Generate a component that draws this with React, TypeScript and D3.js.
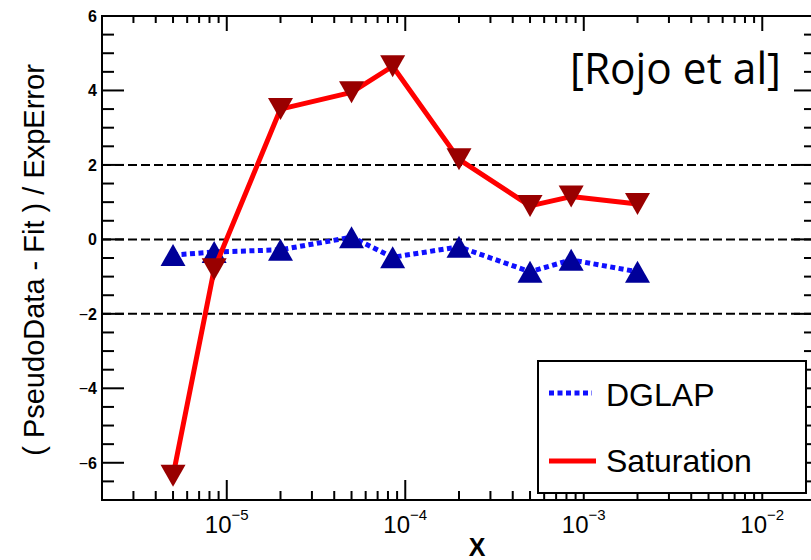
import React from "react";
import * as d3 from "d3";

// x positions of the pseudo-data bins
const xValues = [5e-6, 8.5e-6, 2e-5, 5e-5, 8.5e-5, 2e-4, 5e-4, 8.5e-4, 2e-3];
// (PseudoData - Fit) / ExpError for each model
const dglap = [-0.42, -0.34, -0.28, 0.06, -0.48, -0.2, -0.87, -0.55, -0.87];
const saturation = [-6.35, -0.8, 3.5, 3.95, 4.65, 2.15, 0.9, 1.15, 0.95];

const yTicks = [-6, -4, -2, 0, 2, 4, 6];
const xTickExponents = [-5, -4, -3, -2];
const refLines = [-2, 0, 2];

const W = 811;
const H = 560;
const L = 102, R = 816, T = 16, B = 500;

const x = d3.scaleLog().domain([2e-6, 2e-2]).range([L, R]);
const y = d3.scaleLinear().domain([-7, 6]).range([B, T]);

const font = "'Liberation Sans', Arial, Helvetica, sans-serif";

const upTri = "M0,-11L12.5,11L-12.5,11Z";
const downTri = "M0,11L12.5,-11L-12.5,-11Z";

function minorX(): number[] {
  const out: number[] = [];
  for (let e = -6; e <= -2; e++) {
    for (let m = 1; m <= 9; m++) {
      const v = m * Math.pow(10, e);
      if (v >= 2e-6 * 0.999 && v <= 2e-2 * 1.001) out.push(v);
    }
  }
  return out;
}

export default function App() {
  const line = d3
    .line<number>()
    .x((_, i) => x(xValues[i]))
    .y((d) => y(d));

  const yMinor = d3.range(-7, 6.01, 0.5);
  const xMinor = minorX();

  return (
    <svg
      width={W}
      height={H}
      viewBox={`0 0 ${W} ${H}`}
      style={{ position: "absolute", left: 0, top: 0, background: "#fff" }}
    >
      <rect x={0} y={0} width={W} height={H} fill="#fff" />

      {/* reference lines */}
      {refLines.map((v) => (
        <line
          key={"ref" + v}
          x1={L}
          x2={R}
          y1={y(v)}
          y2={y(v)}
          stroke="#000"
          strokeWidth={2}
          strokeDasharray="9 4"
        />
      ))}

      {/* y ticks, left and right */}
      {yMinor.map((v) => {
        const major = Math.abs(v % 2) < 1e-6;
        const len = major ? 22 : 12;
        return (
          <g key={"yt" + v}>
            <line x1={L} x2={L + len} y1={y(v)} y2={y(v)} stroke="#000" strokeWidth={2} />
            <line x1={R} x2={R - len} y1={y(v)} y2={y(v)} stroke="#000" strokeWidth={2} />
          </g>
        );
      })}

      {/* x ticks, bottom and top */}
      {xMinor.map((v, i) => {
        const major = Math.abs(Math.log10(v) - Math.round(Math.log10(v))) < 1e-6;
        return (
          <g key={"xt" + i}>
            <line x1={x(v)} x2={x(v)} y1={B} y2={B - (major ? 20 : 9)} stroke="#000" strokeWidth={2} />
            <line x1={x(v)} x2={x(v)} y1={T} y2={T + (major ? 15 : 7)} stroke="#000" strokeWidth={2} />
          </g>
        );
      })}

      {/* frame */}
      <rect x={L} y={T} width={R - L} height={B - T} fill="none" stroke="#000" strokeWidth={2} />

      {/* y tick labels */}
      {yTicks.map((v) => (
        <text
          key={"yl" + v}
          x={97}
          y={y(v) + 6}
          textAnchor="end"
          fontFamily={font}
          fontSize={16}
          fontWeight="bold"
          fill="#000"
        >
          {v < 0 ? (
            <>
              <tspan fontWeight="normal">−</tspan>
              {Math.abs(v)}
            </>
          ) : (
            String(v)
          )}
        </text>
      ))}

      {/* x tick labels */}
      {xTickExponents.map((e) => (
        <text
          key={"xl" + e}
          x={x(Math.pow(10, e))}
          y={533}
          textAnchor="middle"
          fontFamily={font}
          fontSize={24}
          fill="#000"
        >
          10
          <tspan fontSize={15} dy={-13}>
            {"−" + Math.abs(e)}
          </tspan>
        </text>
      ))}

      {/* axis titles */}
      <text x={477} y={556} textAnchor="middle" fontFamily={font} fontSize={25} fontWeight="bold" fill="#000">
        X
      </text>
      <text
        transform={`translate(44, 260) rotate(-90)`}
        textAnchor="middle"
        fontFamily={font}
        fontSize={29}
        fill="#000"
      >
        ( PseudoData - Fit ) / ExpError
      </text>

      {/* DGLAP */}
      <path
        d={line(dglap) || ""}
        fill="none"
        stroke="#1010ff"
        strokeWidth={5}
        strokeDasharray="5 3.5"
      />
      {dglap.map((v, i) => (
        <path key={"dm" + i} d={upTri} transform={`translate(${x(xValues[i])},${y(v)})`} fill="#000099" />
      ))}

      {/* Saturation */}
      <path d={line(saturation) || ""} fill="none" stroke="#ff0000" strokeWidth={5} strokeLinejoin="round" />
      {saturation.map((v, i) => (
        <path key={"sm" + i} d={downTri} transform={`translate(${x(xValues[i])},${y(v)})`} fill="#990000" />
      ))}

      {/* citation */}
      <text
        x={570}
        y={84}
        fontFamily="'Open Sans', 'DejaVu Sans', sans-serif"
        fontSize={43}
        fill="#000"
        textLength={211}
        lengthAdjust="spacingAndGlyphs"
      >
        [Rojo et al]
      </text>

      {/* legend */}
      <rect x={538} y={361} width={268} height={132} fill="#fff" stroke="#000" strokeWidth={2} />
      <line x1={549} x2={592} y1={393} y2={393} stroke="#1010ff" strokeWidth={5} strokeDasharray="5 3.5" />
      <text x={606} y={406} fontFamily={font} fontSize={32} fill="#000">
        DGLAP
      </text>
      <line x1={549} x2={596} y1={461} y2={461} stroke="#ff0000" strokeWidth={5} />
      <text x={606} y={472} fontFamily={font} fontSize={32} fill="#000">
        Saturation
      </text>
    </svg>
  );
}
